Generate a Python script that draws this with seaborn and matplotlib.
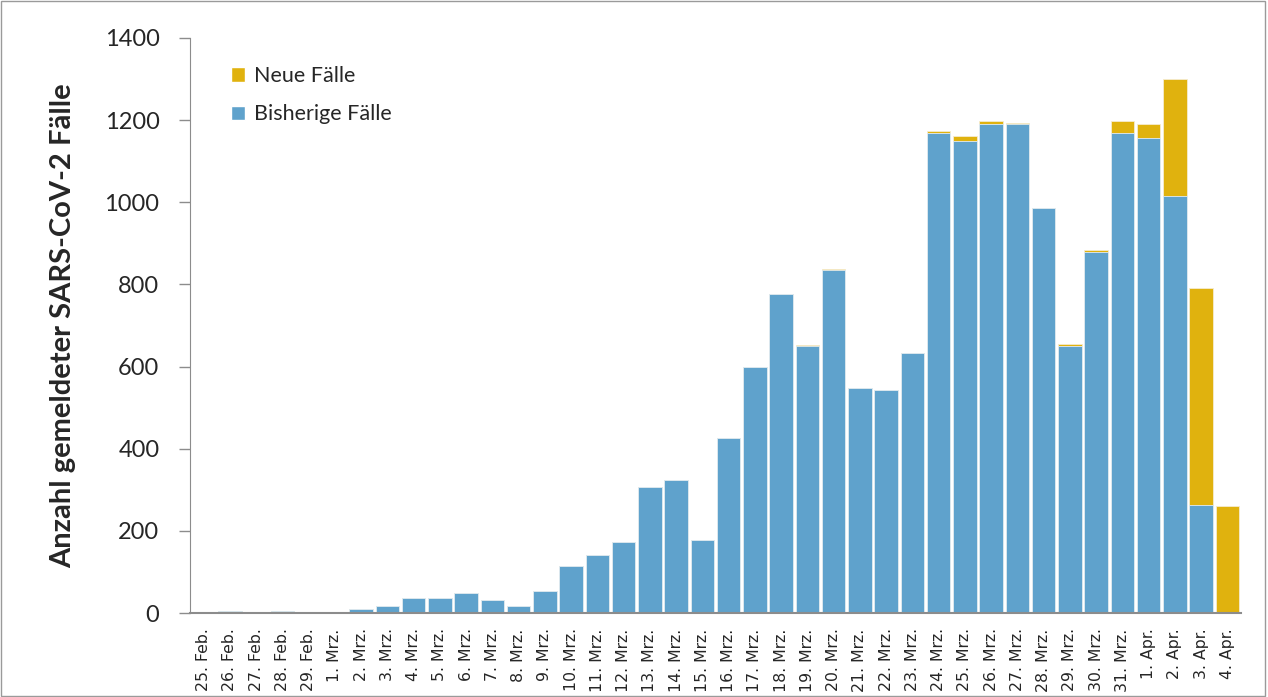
import matplotlib
matplotlib.use("Agg")
import matplotlib.pyplot as plt
from matplotlib.patches import Patch, Rectangle
import seaborn as sns
import pandas as pd

# Daten
tage = ["25. Feb.", "26. Feb.", "27. Feb.", "28. Feb.", "29. Feb.",
        "1. Mrz.", "2. Mrz.", "3. Mrz.", "4. Mrz.", "5. Mrz.", "6. Mrz.", "7. Mrz.",
        "8. Mrz.", "9. Mrz.", "10. Mrz.", "11. Mrz.", "12. Mrz.", "13. Mrz.",
        "14. Mrz.", "15. Mrz.", "16. Mrz.", "17. Mrz.", "18. Mrz.", "19. Mrz.",
        "20. Mrz.", "21. Mrz.", "22. Mrz.", "23. Mrz.", "24. Mrz.", "25. Mrz.",
        "26. Mrz.", "27. Mrz.", "28. Mrz.", "29. Mrz.", "30. Mrz.", "31. Mrz.",
        "1. Apr.", "2. Apr.", "3. Apr.", "4. Apr."]
bisherige = [2, 6, 3, 4, 1, 1, 9, 17, 37, 36, 48, 32, 17, 54, 114, 141, 173, 307,
             324, 178, 426, 599, 777, 650, 835, 548, 543, 633, 1168, 1150, 1190,
             1190, 985, 651, 880, 1169, 1157, 1015, 263, 0]
neue = [0, 0, 0, 0, 0, 0, 1, 0, 0, 0, 0, 0, 0, 0, 0, 0, 0, 0,
        0, 0, 0, 0, 0, 3, 3, 0, 0, 0, 5, 12, 7,
        2, 2, 3, 5, 30, 33, 285, 528, 261]

df = pd.DataFrame({"tag": tage, "bisherige": bisherige, "neue": neue})
df["gesamt"] = df["bisherige"] + df["neue"]

blau = "#5FA2CC"
gelb = "#E0B20E"

sns.set_style("white")

fig = plt.figure(figsize=(12.68, 6.97), dpi=100)
ax = fig.add_axes([0.1498, 0.1205, 0.8289, 0.825])

sns.barplot(data=df, x="tag", y="gesamt", color=gelb, saturation=1, width=0.9,
            edgecolor="#f5ecd0", linewidth=0.6, ax=ax)
sns.barplot(data=df, x="tag", y="bisherige", color=blau, saturation=1, width=0.9,
            edgecolor="#e3edf5", linewidth=0.6, ax=ax)

ax.set_xlim(-0.52, 39.52)
ax.set_ylim(0, 1400)
ax.set_yticks(range(0, 1401, 200))
ax.set_yticklabels([str(v) for v in range(0, 1401, 200)], fontsize=17, family="Lato")
ax.set_xticks(range(len(tage)))
ax.set_xticklabels(tage, rotation=90, fontsize=11.3, family="DejaVu Sans")
ax.tick_params(axis="y", direction="out", length=8, width=1, color="#8c8c8c", left=True, pad=14)
ax.tick_params(axis="x", length=0, pad=11)

ax.set_xlabel("")
ax.set_ylabel("Anzahl gemeldeter SARS-CoV-2 Fälle", fontsize=21, fontweight="bold",
              family="Lato", labelpad=20)

for s in ["top", "right"]:
    ax.spines[s].set_visible(False)
ax.spines["left"].set_color("#8c8c8c")
ax.spines["bottom"].set_color("#8c8c8c")
ax.spines["bottom"].set_linewidth(1.5)

handles = [Patch(facecolor=gelb, label="Neue Fälle"),
           Patch(facecolor=blau, label="Bisherige Fälle")]
leg = ax.legend(handles=handles, loc="upper left", bbox_to_anchor=(0.021, 0.985),
                frameon=False, prop={"family": "Lato", "size": 15.5},
                handlelength=0.65, handleheight=0.65, handletextpad=0.4,
                labelspacing=0.85)

# Rahmen um die Grafik
fig.patches.append(Rectangle((0.001, 0.001), 0.997, 0.997, transform=fig.transFigure,
                             fill=False, edgecolor="#9a9a9a", linewidth=1))

fig.savefig("out.png", dpi=100)
